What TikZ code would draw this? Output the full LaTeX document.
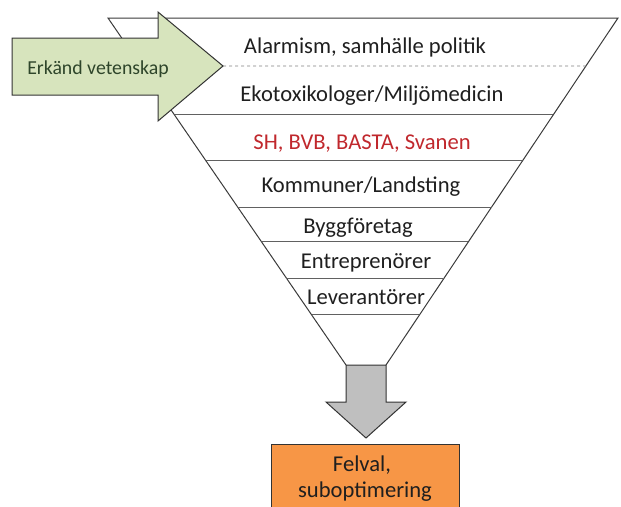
\documentclass[tikz,border=0pt]{standalone}
\usepackage{fontspec}
\setmainfont{Carlito}
\usetikzlibrary{calc}
\definecolor{arrowgreen}{HTML}{D7E4BD}
\definecolor{boxorange}{HTML}{F79646}
\definecolor{arrowgray}{HTML}{BFBFBF}
\definecolor{lineclr}{HTML}{3A3A3A}
\definecolor{redtext}{HTML}{C0282D}
\definecolor{greentext}{HTML}{2E452A}
\tikzset{
  funnel/.style={draw=lineclr, line width=1pt},
  layer/.style={draw=lineclr!80, line width=1pt},
  label/.style={font=\fontsize{22.6}{24}\selectfont, text=black!88, inner sep=0pt, anchor=base},
  shapeedge/.style={draw=black!80, line width=1pt, line join=miter}
}
\begin{document}
\begin{tikzpicture}[x=1pt, y=-1pt]
\useasboundingbox (0,0) rectangle (621,506);
% funnel outline
\coordinate (TL) at (108,18);
\coordinate (TR) at (618,18);
\coordinate (BL) at (346,365);
\coordinate (BR) at (386,365);
\draw[funnel] (BL) -- (TL) -- (TR) -- (BR);
% layer lines
\foreach \t in {0.2795,0.4121,0.5447,0.6455,0.7493,0.8559}{
  \draw[layer] ($(TL)!\t!(BL)$) -- ($(TR)!\t!(BR)$);
}
% dashed line from arrow tip
\coordinate (tip) at (223,66);
\draw[draw=gray, dashed, line width=0.8pt] (tip) -- ($(TR)!0.1383!(BR)$);
% green arrow
\draw[shapeedge, fill=arrowgreen] (12,38) -- (158,38) -- (158,12) -- (tip) -- (158,121) -- (158,95) -- (12,95) -- cycle;
\node[label, font=\fontsize{19.8}{22}\selectfont, text=greentext] (erk) at (98,74) {Erkänd vetenskap};
% layer texts
\node[label] (l1) at (365,53) {Alarmism, samhälle politik};
\node[label] (l2) at (372,101) {Ekotoxikologer/Miljömedicin};
\node[label, text=redtext] (l3) at (362,149) {SH, BVB, BASTA, Svanen};
\node[label] (l4) at (361,192) {Kommuner/Landsting};
\node[label] (l5) at (358,233) {Byggföretag};
\node[label] (l6) at (366,268) {Entreprenörer};
\node[label] (l7) at (366,304) {Leverantörer};
% gray arrow
\draw[shapeedge, fill=arrowgray] (BL) -- (BR) -- (386,402) -- (406,402) -- (366,438) -- (326,402) -- (346,402) -- cycle;
% orange box
\draw[shapeedge, fill=boxorange] (271,444) rectangle (459,520);
\node[label] (res1) at (362,471) {Felval,};
\node[label] (res2) at (365,497) {suboptimering};
\end{tikzpicture}
\end{document}
